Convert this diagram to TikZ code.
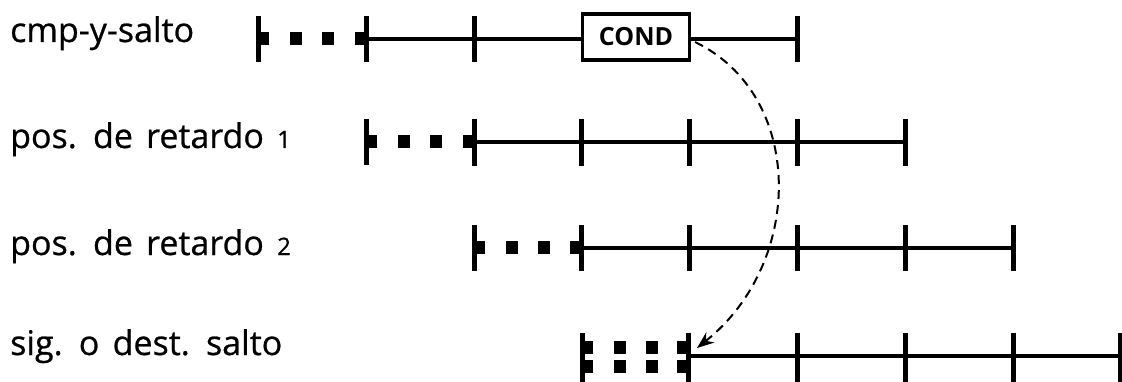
\documentclass[tikz,border=0pt]{standalone}
\usepackage{fontspec}
\setmainfont{Open Sans}
\newfontfamily\lblfont{Open Sans}[FakeBold=0.7,WordSpace=1.5]
\usetikzlibrary{arrows.meta}
\begin{document}
\begin{tikzpicture}[x=1pt,y=-1pt,
  axis/.style={line width=3.8pt},
  stagetick/.style={line width=5pt},
  blk/.style={fill=black,draw=none},
  lbl/.style={anchor=base west,inner sep=0pt,font=\lblfont\fontsize{34}{36}\selectfont},
  jump/.style={line width=2pt,dash pattern=on 9pt off 6pt,
    -{Stealth[length=17pt,width=13pt]}},
  condbox/.style={draw,line width=3.4pt,minimum width=107pt,minimum height=46pt,
    inner sep=0pt,font=\fontsize{25}{26}\selectfont\bfseries,fill=white}
]
\useasboundingbox (0,0) rectangle (1122,382);

% dotted lead-in of a stage line: start tick, stub, two dots, stub, solid tick
\newcommand\leadin[3]{% y, start x, solid x
  \draw[stagetick] (#2,#1-23) -- (#2,#1+23);
  \fill[blk] (#2,#1-6.5) rectangle (#2+11,#1+6.5);
  \fill[blk] (#2+32,#1-6.5) rectangle (#2+44,#1+6.5);
  \fill[blk] (#2+64,#1-6.5) rectangle (#2+76,#1+6.5);
  \fill[blk] (#3-11,#1-6.5) rectangle (#3,#1+6.5);
}

% row labels
\node[lbl] (lab1) at (10,42) {cmp-y-salto};
\node[lbl] (lab2) at (10,148) {pos. de retardo {\fontsize{24}{26}\selectfont 1}};
\node[lbl] (lab3) at (10,255) {pos. de retardo {\fontsize{24}{26}\selectfont 2}};
\node[lbl] (lab4) at (10,355) {sig. o dest. salto};

% cmp-y-salto
\leadin{39}{258}{366}
\draw[axis] (366,39) -- (797,39);
\foreach \x in {366,474,797} \draw[stagetick] (\x,16) -- (\x,62);
\node[condbox] (cond) at (636,37) {COND};

% pos. de retardo 1
\leadin{142}{366}{474}
\draw[axis] (474,142) -- (905,142);
\foreach \x in {474,581,689,797,905} \draw[stagetick] (\x,119) -- (\x,166);

% pos. de retardo 2
\leadin{248}{474}{581}
\draw[axis] (581,248) -- (1013,248);
\foreach \x in {581,689,797,905,1013} \draw[stagetick] (\x,225) -- (\x,271);

% sig. o dest. salto (two rows of dots)
\draw[stagetick] (582,333) -- (582,382);
\foreach \yy in {347,366} {
  \fill[blk] (582,\yy-6.5) rectangle (593,\yy+6.5);
  \fill[blk] (614,\yy-6.5) rectangle (626,\yy+6.5);
  \fill[blk] (646,\yy-6.5) rectangle (658,\yy+6.5);
  \fill[blk] (677,\yy-6.5) rectangle (688,\yy+6.5);
}
\draw[axis,line width=3.4pt] (688,356) -- (1122,356);
\foreach \x in {688,797,905,1013,1120} \draw[stagetick] (\x,333) -- (\x,382);

% branch target arrow
\coordinate (arrstart) at (695,42);
\coordinate (arrend) at (697,348);
\draw[jump] (arrstart) .. controls (805,95) and (805,262) .. (arrend);
\end{tikzpicture}
\end{document}
